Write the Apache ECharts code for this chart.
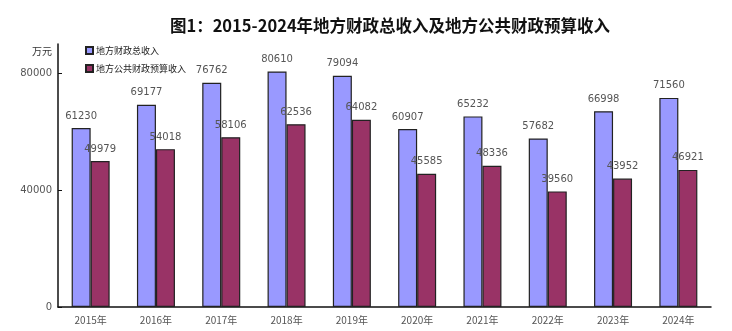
<!DOCTYPE html>
<html><head><meta charset="utf-8">
<script src="https://cdn.jsdelivr.net/npm/echarts@6/dist/echarts.min.js"></script>
<style>html,body{margin:0;padding:0;background:#fff}#c{width:732px;height:331px}</style>
</head><body><div id="c"></div>
<script>
const categories = ['2015年','2016年','2017年','2018年','2019年','2020年','2021年','2022年','2023年','2024年'];
const totalRevenue = [61230, 69177, 76762, 80610, 79094, 60907, 65232, 57682, 66998, 71560];
const budgetRevenue = [49979, 54018, 58106, 62536, 64082, 45585, 48336, 39560, 43952, 46921];
const yTicks = [0, 40000, 80000];
const seriesNames = ['地方财政总收入', '地方公共财政预算收入'];

const chart = echarts.init(document.getElementById('c'));
const labelStyle = {show: true, position: 'top', distance: 7, color: '#555', fontSize: 10, fontFamily: 'DejaVu Sans'};
chart.setOption({
  animation: false,
  backgroundColor: '#fff',
  title: [
    {text: '图1：2015-2024年地方财政总收入及地方公共财政预算收入', left: 385, textAlign: 'center', top: 12,
     textStyle: {fontSize: 16.5, fontWeight: 'bold', color: '#111', fontFamily: 'Noto Sans CJK SC'}},
    {text: '万元', left: 32, top: 46, padding: 0, textStyle: {fontSize: 10, fontWeight: 'normal', color: '#333', fontFamily: 'Noto Sans CJK SC'}}
  ],
  legend: {
    orient: 'vertical', left: 80, top: 41, itemWidth: 7, itemHeight: 7, itemGap: 9,
    icon: 'rect',
    textStyle: {fontSize: 9, color: '#222', fontFamily: 'Noto Sans CJK SC', padding: [0,0,0,-2]},
    data: seriesNames
  },
  grid: {left: 58, right: 21, top: 44, bottom: 24},
  xAxis: {
    type: 'category', data: categories,
    axisLine: {lineStyle: {color: '#111', width: 1.5}},
    axisTick: {inside: true, length: 4, lineStyle: {color: '#111'}},
    axisLabel: {color: '#555', fontSize: 10, margin: 8, fontFamily: 'Noto Sans CJK SC'}
  },
  yAxis: {
    type: 'value', min: 0, max: 90000, interval: 40000,
    splitLine: {show: false},
    axisLine: {show: true, lineStyle: {color: '#111', width: 1.5}},
    axisTick: {show: true, inside: true, length: 4, lineStyle: {color: '#111'}, customValues: yTicks},
    axisLabel: {color: '#555', fontSize: 10, margin: 6, fontFamily: 'DejaVu Sans', customValues: yTicks,
      formatter: v => String(v)}
  },
  series: [
    {name: seriesNames[0], type: 'bar', data: totalRevenue, barWidth: 19, barGap: '0%',
     itemStyle: {color: '#9999FF', borderColor: '#222', borderWidth: 1.2}, label: labelStyle},
    {name: seriesNames[1], type: 'bar', data: budgetRevenue, barWidth: 19,
     itemStyle: {color: '#993366', borderColor: '#222', borderWidth: 1.2}, label: labelStyle}
  ]
});
</script></body></html>
